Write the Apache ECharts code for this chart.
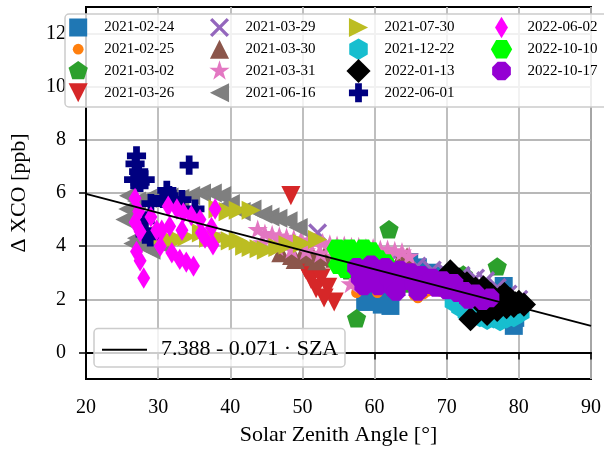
<!DOCTYPE html>
<html>
<head>
<meta charset="utf-8">
<script src="https://cdn.jsdelivr.net/npm/echarts@6/dist/echarts.min.js"></script>
<style>html,body{margin:0;padding:0;background:#fff}#c{width:604px;height:453px}</style>
</head>
<body>
<div id="c"></div>
<script>
// ---------------- data (SZA [deg], Delta XCO [ppb]) ----------------
const seriesNames = ['2021-02-24','2021-02-25','2021-03-02','2021-03-26','2021-03-29','2021-03-30','2021-03-31','2021-06-16','2021-07-30','2021-12-22','2022-01-13','2022-06-01','2022-06-02','2022-10-10','2022-10-17'];

const d_2021_02_24 = [[59.2,2.2],[60.5,2.2],[62.2,1.75],[61.0,1.8],[64.8,3.4],[66.0,3.2],[67.5,3.0],[69.0,2.9],[70.5,2.8],[72.0,2.8],[77.9,2.5],[79.3,1.0],[79.5,1.3],[58.7,1.9]];
const d_2021_02_25 = [[57.5,2.25],[58.3,2.4],[60.4,2.25],[65.5,2.15],[66.0,2.05],[66.8,2.2],[67.3,2.3],[69.2,2.3],[63.5,2.4]];
const d_2021_03_02 = [[62.0,4.6],[57.5,1.25],[77.0,3.2],[62.5,2.65],[63.5,2.6],[56.5,3.05],[72.3,2.9],[64.5,2.55]];
const d_2021_03_26 = [[48.4,5.9],[50.3,3.2],[50.5,3.1],[51.9,3.2],[51.2,2.75],[52.6,2.8],[51.9,2.4],[53.5,2.45],[54.4,1.9],[53.0,2.05]];
const d_2021_03_29 = [[52.1,4.5],[60.0,3.5],[62.0,3.4],[64.0,3.35],[65.9,3.25],[68.0,3.1],[70.0,3.0],[72.0,2.9],[74.0,2.8],[75.4,2.7],[77.0,2.45],[78.5,2.2],[80.0,2.0]];
const d_2021_03_30 = [[47.0,3.75],[48.5,3.65],[50.0,3.7],[51.5,3.6],[53.0,3.6],[54.5,3.55],[56.0,3.5],[57.5,3.5],[59.0,3.45],[60.5,3.45],[62.0,3.45],[63.5,3.5],[64.5,3.6],[49.0,3.5],[52.0,3.45]];
const d_2021_03_31 = [[37.5,4.4],[43.8,4.6],[44.8,4.45],[45.8,4.4],[46.8,4.35],[47.8,4.3],[48.8,4.25],[49.8,4.2],[50.8,4.15],[51.8,4.15],[52.8,4.1],[53.8,4.05],[54.8,4.0],[55.8,4.0],[56.8,3.95],[57.8,3.95],[58.8,3.9],[59.8,3.9],[60.8,3.85],[61.8,3.85],[62.8,3.8],[63.8,3.75],[64.8,3.6],[44.5,4.1],[46.5,3.95],[48.5,3.85],[50.5,3.8],[52.5,3.7],[54.5,3.6],[56.7,2.55],[57.3,2.9],[56.0,3.2]];
const d_2021_06_16 = [[25.9,5.9],[27.0,5.7],[28.5,5.8],[30.0,5.85],[31.5,5.85],[33.0,5.8],[34.5,5.9],[36.0,6.0],[37.5,6.0],[38.8,5.9],[40.0,5.6],[41.5,5.3],[43.0,5.4],[44.5,5.2],[45.5,5.1],[46.6,5.05],[48.0,4.95],[49.4,4.7],[25.4,5.0],[25.8,5.4],[27.0,4.3],[28.0,4.0],[29.0,3.85],[30.5,4.05],[26.5,4.1]];
const d_2021_07_30 = [[30.5,4.4],[31.5,4.2],[32.8,4.25],[34.0,4.35],[36.0,4.5],[37.0,4.3],[38.3,5.4],[39.7,5.3],[41.1,5.35],[42.9,5.35],[38.5,4.3],[40.0,4.2],[41.1,4.2],[42.0,4.0],[42.9,3.95],[44.0,3.9],[45.0,3.85],[46.6,3.95],[48.0,4.05],[50.0,4.1],[52.1,4.25]];
const d_2021_12_22 = [[71.0,1.9],[71.9,1.7],[72.8,1.5],[73.7,1.4],[74.6,1.35],[75.6,1.25],[76.5,1.3],[77.4,1.2],[78.3,1.3],[79.3,1.35],[80.2,1.5],[79.8,1.8],[74.0,1.8],[76.0,1.7]];
const d_2022_01_13 = [[70.5,3.05],[71.0,2.8],[71.7,2.75],[72.3,2.5],[72.8,2.6],[73.5,2.3],[74.0,2.4],[75.1,2.45],[75.5,2.1],[76.1,2.2],[77.4,2.05],[78.0,2.2],[78.8,2.0],[79.5,1.85],[80.0,1.9],[80.7,1.8],[73.3,1.25],[75.6,1.45],[77.0,1.6],[78.3,1.7],[79.3,1.75],[76.5,1.8],[74.5,1.9]];
const d_2022_06_01 = [[27.0,7.4],[26.8,7.1],[27.3,6.8],[26.6,6.5],[28.2,6.5],[27.5,6.4],[34.3,7.05],[31.2,6.1],[30.7,5.8],[32.1,5.75],[33.3,5.75],[35.1,5.4],[28.2,4.95],[28.2,4.45],[28.9,4.35],[31.5,5.9],[29.0,5.6]];
const d_2022_06_02 = [[26.8,5.8],[27.3,5.3],[26.8,4.9],[27.5,4.55],[27.0,3.8],[27.5,3.45],[28.0,2.8],[29.0,5.1],[29.8,4.6],[30.3,4.0],[31.4,5.5],[32.6,5.4],[33.5,5.25],[34.6,5.15],[35.8,5.0],[31.9,3.75],[33.0,3.5],[33.9,3.4],[34.9,3.25],[31.6,4.75],[33.3,4.6],[36.0,4.5],[37.9,5.4],[37.4,4.7],[37.6,4.05],[36.5,4.3],[30.5,4.6]];
const d_2022_10_10 = [[54.8,3.9],[55.5,3.6],[55.0,3.3],[56.5,3.9],[57.5,3.7],[57.0,3.3],[58.5,3.9],[59.5,3.8],[58.0,3.5],[60.5,3.5],[61.5,3.35],[56.0,3.15]];
const d_2022_10_17 = [[57.5,3.2],[58.0,2.8],[58.5,2.5],[59.5,3.3],[60.0,2.9],[60.5,2.5],[61.5,3.2],[62.0,2.8],[62.5,2.45],[63.5,3.1],[64.0,2.7],[65.0,3.0],[65.5,2.6],[66.5,2.9],[67.0,2.55],[68.0,2.8],[68.5,2.45],[69.5,2.7],[70.0,2.35],[71.0,2.6],[71.5,2.25],[72.5,2.3],[73.0,2.0],[74.0,2.2],[75.0,1.95],[76.0,2.05],[63.0,2.3],[66.0,2.3]];

const fitName = '7.388 - 0.071 · SZA';
const fitX = [20, 90];
const fitY = [5.968, 1.0];

const xTicks = [20,30,40,50,60,70,80,90];
const yTicks = [0,2,4,6,8,10,12];

// ---------------- styles ----------------
const allData = [d_2021_02_24,d_2021_02_25,d_2021_03_02,d_2021_03_26,d_2021_03_29,d_2021_03_30,d_2021_03_31,d_2021_06_16,d_2021_07_30,d_2021_12_22,d_2022_01_13,d_2022_06_01,d_2022_06_02,d_2022_10_10,d_2022_10_17];
const colors = ['#1f77b4','#ff7f0e','#2ca02c','#d62728','#9467bd','#8c564b','#e377c2','#7f7f7f','#bcbd22','#17becf','#000000','#000080','#ff00ff','#00ff00','#9400d3'];
const F = 'M0 0 M24 24 ';  // common 24x24 frame
const shapes = [
  F+'M4 4 H20 V20 H4 Z',
  F+'M7.2 12 A4.8 4.8 0 1 0 16.8 12 A4.8 4.8 0 1 0 7.2 12 Z',
  F+'M12 3 L20.56 9.22 L17.29 19.28 L6.71 19.28 L3.44 9.22 Z',
  F+'M3.5 3.5 L20.5 3.5 L12 20.5 Z',
  F+'M3.5 5.6 L5.6 3.5 L12 9.9 L18.4 3.5 L20.5 5.6 L14.1 12 L20.5 18.4 L18.4 20.5 L12 14.1 L5.6 20.5 L3.5 18.4 L9.9 12 Z',
  F+'M12 3.5 L20.5 20.5 L3.5 20.5 Z',
  F+'M12 2.5 L14.13 9.06 L21.03 9.06 L15.45 13.12 L17.58 19.69 L12 15.63 L6.42 19.69 L8.55 13.12 L2.97 9.06 L9.87 9.06 Z',
  F+'M3.5 12 L20.5 3.5 L20.5 20.5 Z',
  F+'M20.5 12 L3.5 3.5 L3.5 20.5 Z',
  F+'M12 2.5 L20.23 7.25 L20.23 16.75 L12 21.5 L3.77 16.75 L3.77 7.25 Z',
  F+'M12 1.25 L22.75 12 L12 22.75 L1.25 12 Z',
  F+'M9 3.5 H15 V9 H20.5 V15 H15 V20.5 H9 V15 H3.5 V9 H9 Z',
  F+'M12 2.5 L17.75 12 L12 21.5 L6.25 12 Z',
  F+'M2.5 12 L7.25 3.77 L16.75 3.77 L21.5 12 L16.75 20.23 L7.25 20.23 Z',
  F+'M20.31 15.44 L15.44 20.31 L8.56 20.31 L3.69 15.44 L3.69 8.56 L8.56 3.69 L15.44 3.69 L20.31 8.56 Z'
];
const FONT = 'Liberation Serif';
const SYM = 27;

const series = seriesNames.map((n, i) => ({
  name: n, type: 'scatter', data: allData[i],
  symbol: 'path://' + shapes[i], symbolSize: SYM,
  itemStyle: { color: colors[i], opacity: 1 },
  emphasis: { disabled: true }, z: 2
}));
series.push({
  name: fitName, type: 'line', data: fitX.map((x, k) => [x, fitY[k]]),
  symbol: 'none', showSymbol: false, lineStyle: { color: '#000', width: 2 }, itemStyle: { color: '#000' },
  z: 5, emphasis: { disabled: true }
});

// legend layout: column-major 4 x 4
const colCenter = [85.7, 227, 366, 509];
const rowCenter = [27.5, 49.2, 71, 92.8];
const legends = seriesNames.map((n, i) => {
  const c = Math.floor(i / 4), r = i % 4;
  return {
    data: [{ name: n, icon: 'path://' + shapes[i] }],
    orient: 'vertical', left: colCenter[c] - 21, top: rowCenter[r] - SYM / 2, padding: 0,
    itemWidth: 42, itemHeight: SYM, symbolKeepAspect: true,
    selectedMode: false, z: 60,
    textStyle: { fontFamily: FONT, fontSize: 15, color: '#000' }
  };
});
legends.push({
  data: [{ name: fitName, icon: 'path://M0 0 H45 V2 H0 Z' }], left: 102, top: 338.7, padding: 0, itemWidth: 45, itemHeight: 14,
  selectedMode: false, z: 60,
  textStyle: { fontFamily: FONT, fontSize: 22, color: '#000', padding: [0,0,0,9] }
});

const option = {
  animation: false,
  backgroundColor: '#fff',
  grid: { left: 84, right: 13, top: 7, bottom: 74, show: true, borderColor: '#000', borderWidth: 2, containLabel: false },
  xAxis: {
    type: 'value', min: 20, max: 90, interval: 10,
    name: 'Solar Zenith Angle [°]', nameLocation: 'middle', nameGap: 45,
    nameTextStyle: { fontFamily: FONT, fontSize: 22, color: '#000' },
    axisLine: { show: true, lineStyle: { color: '#000', width: 2 } },
    axisTick: { show: true, inside: false, length: 7, lineStyle: { color: '#000', width: 1.5 } },
    axisLabel: { fontFamily: FONT, fontSize: 20, color: '#000', margin: 19 },
    splitLine: { show: true, lineStyle: { color: '#b8b8b8', width: 1.8 } }
  },
  yAxis: {
    type: 'value', min: -1, max: 13, splitNumber: 7,
    name: 'Δ XCO [ppb]', nameLocation: 'middle', nameGap: 56,
    nameTextStyle: { fontFamily: FONT, fontSize: 22, color: '#000' },
    axisLine: { show: true, lineStyle: { color: '#000', width: 2 } },
    axisTick: { show: true, inside: false, length: 7, customValues: yTicks, lineStyle: { color: '#000', width: 1.5 } },
    axisLabel: { fontFamily: FONT, fontSize: 20, color: '#000', margin: 20, customValues: yTicks },
    splitLine: { show: true, lineStyle: { color: '#b8b8b8', width: 1.8 } }
  },
  legend: legends,
  graphic: [
    { type: 'rect', z: 50, shape: { x: 65, y: 14, width: 560, height: 93, r: 4 },
      style: { fill: 'rgba(255,255,255,0.8)', stroke: '#cccccc', lineWidth: 1.5 } },
    { type: 'rect', z: 50, shape: { x: 94, y: 328.5, width: 251, height: 38.5, r: 4 },
      style: { fill: 'rgba(255,255,255,0.8)', stroke: '#cccccc', lineWidth: 1.5 } }
  ],
  series: series
};
const chart = echarts.init(document.getElementById('c'), null, { renderer: 'canvas' });
chart.setOption(option);
</script>
</body>
</html>
